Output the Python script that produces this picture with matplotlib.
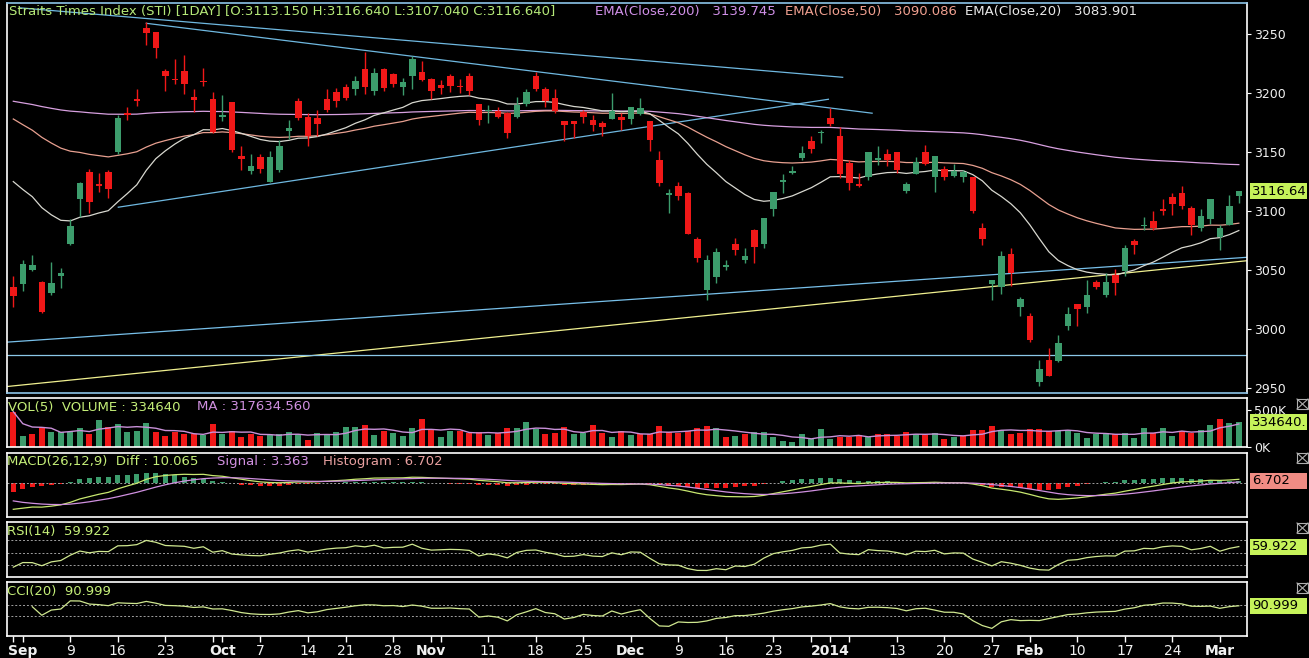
import numpy as np
import pandas as pd
import matplotlib
matplotlib.use('Agg')
import matplotlib.pyplot as plt
from matplotlib.patches import Rectangle
from matplotlib.lines import Line2D

W, H = 1309, 658

# ---- daily STI candles, 30 Aug 2013 .. 5 Mar 2014 ----
opens = [3036, 3038, 3050, 3040, 3031, 3045, 3072, 3110, 3133, 3123,
         3133, 3150, 3183, 3195, 3255, 3252, 3219, 3212, 3219, 3197,
         3210, 3195, 3180, 3192, 3147, 3134, 3146, 3125, 3135, 3168,
         3193, 3180, 3179, 3195, 3201, 3205, 3203, 3220, 3202, 3220,
         3216, 3205, 3214, 3218, 3212, 3207, 3214, 3205.5, 3214, 3191,
         3185, 3185, 3183, 3180, 3191, 3214, 3203, 3196, 3176, 3176,
         3184, 3177, 3175, 3178, 3180, 3178, 3182, 3176, 3143, 3114,
         3121, 3115, 3076, 3033, 3044, 3053, 3072, 3059, 3084, 3072,
         3102, 3125, 3132, 3145, 3159, 3166, 3179, 3164, 3141, 3123,
         3129, 3143, 3148, 3150, 3117, 3131, 3150, 3129, 3136, 3130,
         3129, 3129, 3086, 3038, 3036, 3064, 3019, 3011, 2955, 2974,
         2973, 3003, 3021, 3019, 3040, 3029, 3046, 3049, 3075, 3087,
         3092, 3102, 3112, 3115, 3103, 3086, 3093, 3078, 3088, 3113.15]
highs = [3045, 3059, 3063, 3041, 3057, 3052, 3093, 3125, 3136, 3132,
         3135, 3181, 3188, 3203, 3260, 3252, 3220, 3229, 3232, 3203,
         3221, 3201, 3198, 3192, 3155, 3148, 3148, 3151, 3160, 3177,
         3196, 3183, 3186, 3203, 3204, 3208, 3214, 3235, 3221, 3221,
         3217, 3213, 3231, 3227, 3213, 3211, 3216, 3212, 3217, 3191,
         3190, 3188, 3184, 3197, 3203, 3218, 3205, 3203, 3176, 3176,
         3186, 3181, 3176, 3200, 3183, 3188, 3196, 3176, 3151, 3119,
         3125, 3116, 3078, 3063, 3069, 3059, 3077, 3069, 3085, 3094,
         3116, 3131, 3138, 3155, 3164, 3169, 3187, 3171, 3143, 3132,
         3150, 3155, 3153, 3150, 3125, 3146, 3156, 3147, 3138, 3140,
         3135, 3129, 3090, 3042, 3066, 3069, 3027, 3014, 2974, 2984,
         2995, 3019, 3021, 3042, 3042, 3048, 3051, 3071, 3076, 3095,
         3100, 3110, 3115, 3121, 3104, 3102, 3110, 3088, 3114, 3116.64]
lows = [3019, 3032, 3049, 3014, 3029, 3035, 3071, 3095, 3098, 3116,
        3111, 3148, 3177, 3189, 3241, 3230, 3202, 3208, 3199, 3184,
        3206, 3166, 3176, 3150, 3135, 3131, 3132, 3125, 3133, 3161,
        3177, 3155, 3164, 3184, 3188, 3194, 3198, 3199, 3198, 3202,
        3205, 3198, 3203, 3210, 3195, 3199, 3201, 3200, 3198, 3173,
        3175, 3179, 3162, 3179, 3189, 3202, 3188, 3183, 3159, 3162,
        3175, 3168, 3164, 3178, 3169, 3174, 3181, 3151, 3121, 3098,
        3109, 3081, 3057, 3025, 3039, 3050, 3063, 3056, 3056, 3069,
        3096, 3115, 3131, 3143, 3149, 3158, 3172, 3128, 3118, 3120,
        3126, 3139, 3138, 3132, 3115, 3131, 3139, 3116, 3126, 3129,
        3125, 3098, 3071, 3025, 3030, 3037, 3011, 2989, 2952, 2960,
        2972, 2999, 3003, 3014, 3034, 3027, 3029, 3045, 3064, 3084,
        3084, 3097, 3097, 3102, 3080, 3083, 3089, 3067, 3088, 3107.04]
closes = [3028, 3055, 3054, 3015, 3039, 3048, 3087, 3124, 3108, 3121,
          3119, 3179, 3181, 3193, 3251, 3238, 3214, 3211, 3208, 3194,
          3209, 3167, 3181, 3152, 3144, 3138, 3136, 3146, 3155, 3170,
          3179, 3164, 3174, 3186, 3193, 3196, 3210, 3205, 3217, 3204,
          3208, 3209, 3229, 3211, 3202, 3204, 3206, 3205, 3202, 3177,
          3186, 3180, 3166, 3190, 3201, 3203, 3193, 3185, 3172.5, 3173.5,
          3180, 3173, 3171, 3185, 3177, 3188, 3187, 3160, 3124, 3115,
          3113, 3081, 3060, 3059, 3065, 3054, 3067, 3062, 3070, 3094,
          3116, 3126, 3134, 3149, 3153, 3167, 3174, 3131, 3124, 3121,
          3150, 3145, 3143, 3135, 3123, 3142, 3140, 3147, 3129, 3134,
          3133, 3100, 3076, 3042, 3062, 3048, 3026, 2991, 2966, 2960,
          2988, 3013, 3017, 3029, 3036, 3040, 3039, 3069, 3071, 3088,
          3086, 3100, 3106, 3104, 3088, 3096, 3110, 3086, 3104, 3116.64]
volumes_k = [477, 150, 177, 250, 204, 195, 204, 250, 177, 368,
             272, 304, 204, 218, 327, 204, 150, 195, 168, 168,
             159, 304, 173, 218, 136, 168, 145, 159, 168, 204,
             173, 86, 191, 177, 195, 268, 272, 291, 159, 218,
             182, 150, 250, 377, 222, 136, 213, 213, 182, 195,
             159, 182, 259, 250, 340, 236, 168, 182, 268, 168,
             182, 295, 191, 136, 213, 159, 173, 173, 286, 195,
             191, 213, 250, 277, 259, 136, 150, 168, 204, 195,
             127, 77, 59, 168, 104, 236, 104, 136, 136, 159,
             136, 168, 168, 145, 195, 177, 159, 191, 104, 136,
             150, 227, 232, 282, 227, 173, 191, 236, 236, 213,
             213, 227, 191, 122, 168, 191, 173, 191, 122, 250,
             191, 259, 150, 213, 182, 222, 295, 377, 318, 334.64]

# date axis (candle number -> label)
tick_pos = [2, 7, 12, 17, 23, 27, 32, 36, 41, 45, 51, 56, 61, 66, 71, 76, 81,
            87, 94, 99, 104, 108, 113, 118, 123, 128]
tick_labels = ['Sep', '9', '16', '23', 'Oct', '7', '14', '21', '28', 'Nov',
               '11', '18', '25', 'Dec', '9', '16', '23', '2014', '13', '20',
               '27', 'Feb', '10', '17', '24', 'Mar']
month_labels = ['Sep', 'Oct', 'Nov', 'Dec', '2014', 'Feb', 'Mar']
extra_ticks = [1, 22, 46, 85, 89]

# indicator values on the first candle (history before the window is not shown)
ema_seed = {200: 3193.0, 50: 3178.0, 20: 3125.0}
macd_seed = [3080.0, 3145.0, -44.0]     # ema12, ema26, signal
rsi_seed = [5.0, 13.5]                  # avg gain, avg loss

# hand drawn trend lines: (candle, price) -> (candle, price)
trend_x0 = [1.7, 15.0, 12.05, 0.23, 0.23, 0.34]
trend_p0 = [3272.1, 3259.0, 3103.3, 2989.0, 2951.4, 2978.4]
trend_x1 = [88.3, 91.4, 86.8, 130.86, 130.86, 130.86]
trend_p1 = [3213.3, 3182.9, 3194.7, 3060.9, 3058.0, 2978.4]
trend_col = ['#6fb8e0', '#6fb8e0', '#6fb8e0', '#78c0ea', '#f0f090', '#8cc8e8']

# -------------------------------------------------------------------------
o = np.array(opens, float); h = np.array(highs, float)
l = np.array(lows, float); c = np.array(closes, float)
vol = np.array(volumes_k, float)
n = len(c)
xs = np.arange(1, n + 1)


def ema(vals, span, seed):
    a = 2.0 / (span + 1)
    out = [seed]
    for v in vals[1:]:
        out.append(out[-1] + a * (v - out[-1]))
    return np.array(out)


ema200 = ema(c, 200, ema_seed[200])
ema50 = ema(c, 50, ema_seed[50])
ema20 = ema(c, 20, ema_seed[20])

diff = ema(c, 12, macd_seed[0]) - ema(c, 26, macd_seed[1])
signal = ema(diff, 9, macd_seed[2])
hist = diff - signal

g, ls = rsi_seed
rsi = [100 - 100 / (1 + g / ls)]
for i in range(1, n):
    ch = c[i] - c[i - 1]
    g = (g * 13 + max(ch, 0)) / 14
    ls = (ls * 13 + max(-ch, 0)) / 14
    rsi.append(100 - 100 / (1 + g / ls))
rsi = np.array(rsi)

tp = pd.Series((h + l + c) / 3)
sma = tp.rolling(20, min_periods=3).mean()
mad = tp.rolling(20, min_periods=3).apply(lambda x: np.mean(np.abs(x - x.mean())), raw=True)
cci = ((tp - sma) / (0.015 * mad)).values

vol_ma = pd.Series(vol).rolling(5, min_periods=1).mean().values

GREEN = '#3c9c6c'
RED = '#f01818'
cndl_col = [GREEN if c[i] >= o[i] else RED for i in range(n)]
vol_col = [RED if c[0] < o[0] else GREEN] + \
          [GREEN if c[i] >= c[i - 1] else RED for i in range(1, n)]

TXT = '#f0f0f0'
LIME = '#c4ee78'
VIOLET = '#d090e0'


def box(y0, y1):
    return [7 / W, 1 - y1 / H, 1240 / W, (y1 - y0) / H]


def fxy(px, py):
    return px / W, 1 - py / H


fig = plt.figure(figsize=(W / 100, H / 100), dpi=100, facecolor='black')
ax = fig.add_axes(box(3, 393))
axv = fig.add_axes(box(398.3, 447.3))
axm = fig.add_axes(box(452.7, 517.3))
axr = fig.add_axes(box(522.3, 577.3))
axc = fig.add_axes(box(582.3, 636))

XL = (0.337, 130.86)
for a in [ax, axv, axm, axr, axc]:
    a.set_facecolor('black')
    a.set_xlim(*XL)
    for s in a.spines.values():
        s.set_color('white')
        s.set_linewidth(1.2)
    a.tick_params(axis='x', which='both', bottom=False, labelbottom=False)
    a.tick_params(axis='y', which='both', left=False, labelleft=False,
                  right=False, labelright=False)

# ---- price panel ----
ax.spines['top'].set_color('#8cc4e8')
ax.spines['bottom'].set_color('#8cc4e8')
for x0, p0, x1, p1, col in zip(trend_x0, trend_p0, trend_x1, trend_p1, trend_col):
    ax.plot([x0, x1], [p0, p1], color=col, lw=0.9, zorder=1)
ax.plot(xs, ema200, color='#d8a0e0', lw=0.9, zorder=2)
ax.plot(xs, ema50, color='#e8a090', lw=0.9, zorder=2)
ax.plot(xs, ema20, color='#d8d8d0', lw=0.9, zorder=2)
ax.vlines(xs, l, h, colors=cndl_col, lw=1.0, zorder=3)
ax.bar(xs, np.maximum(np.abs(c - o), 0.9), bottom=np.minimum(o, c), width=0.68,
       color=cndl_col, linewidth=0, zorder=4)
ax.set_ylim(2946, 3276.2)
ax.set_yticks([2950, 3000, 3050, 3100, 3150, 3200, 3250])
ax.tick_params(axis='y', right=True, labelright=True, colors='white',
               labelcolor=TXT, labelsize=9, length=3, pad=2)

# ---- volume panel ----
axv.bar(xs, vol, width=0.62, color=vol_col, linewidth=0)
axv.plot(xs, vol_ma, color='#c890d8', lw=1.0)
axv.set_ylim(-8, 659)
axv.set_yticks([0, 500])
axv.set_yticklabels(['0K', '500K'])
axv.tick_params(axis='y', right=True, labelright=True, colors='white',
                labelcolor=TXT, labelsize=9, length=3, pad=2)

# ---- MACD panel ----
axm.axhline(0, color='#a0a0a0', lw=0.7, ls=(0, (2, 2)))
axm.bar(xs, hist, width=0.55, color=[GREEN if v >= 0 else RED for v in hist], linewidth=0)
axm.plot(xs, diff, color='#c8e870', lw=0.9)
axm.plot(xs, signal, color=VIOLET, lw=0.9)
axm.set_ylim(-85, 76.5)

# ---- RSI panel ----
for lev in [30, 50, 70]:
    axr.axhline(lev, color='#a0a0a0', lw=0.7, ls=(0, (2, 2)))
axr.plot(xs, rsi, color='#d0e890', lw=0.9)
axr.set_ylim(10.8, 98.8)

# ---- CCI panel ----
for lev in [-100, 100]:
    axc.axhline(lev, color='#a0a0a0', lw=0.7, ls=(0, (2, 2)))
axc.plot(xs, cci, color='#d0e890', lw=0.9)
axc.set_ylim(-474, 530)

# date axis
axc.set_xticks(tick_pos)
axc.set_xticklabels(tick_labels)
axc.set_xticks(extra_ticks, minor=True)
axc.tick_params(axis='x', which='both', bottom=True, colors='white', length=4, width=1)
axc.tick_params(axis='x', which='major', labelbottom=True, labelsize=10,
                labelcolor=TXT, pad=2)
for t in axc.get_xticklabels():
    if t.get_text() in month_labels:
        t.set_fontweight('bold')


# last-value boxes on the right edge
def value_box(a, val, s, fc):
    yc = a.transData.transform((1, val))[1] / H
    fig.add_artist(Rectangle((1250 / W, yc - 8 / H), 57 / W, 16 / H,
                             transform=fig.transFigure, fc=fc, ec='none'))
    fig.text(1252 / W, yc, s, fontsize=9.5, color='black', ha='left', va='center')


value_box(ax, c[-1], '%.2f' % c[-1], '#c6f25a')
value_box(axv, vol[-1], '%d.' % round(vol[-1] * 1000), '#c6f25a')
value_box(axm, hist[-1], '6.702', '#f08c84')
value_box(axr, rsi[-1], '59.922', '#c6f25a')
value_box(axc, cci[-1], '90.999', '#c6f25a')


# ---- header texts ----
def ftext(px, py, s, col, size=9.5):
    x, y = fxy(px, py)
    fig.text(x, y, s, color=col, fontsize=size, ha='left', va='center')


ftext(9, 11, 'Straits Times Index (STI) [1DAY] [O:3113.150 H:3116.640 L:3107.040 C:3116.640]', '#b4e878')
ftext(595, 11, 'EMA(Close,200)   3139.745', '#d090e8')
ftext(785, 11, 'EMA(Close,50)   3090.086', '#f0a090')
ftext(965, 11, 'EMA(Close,20)   3083.901', '#e8e8e8')
ftext(8, 407, 'VOL(5)  VOLUME : 334640', LIME)
ftext(197, 407, 'MA : 317634.560', VIOLET)
ftext(7, 461, 'MACD(26,12,9)  Diff : 10.065', LIME)
ftext(217, 461, 'Signal : 3.363', VIOLET)
ftext(323, 461, 'Histogram : 6.702', '#e8a0a0')
ftext(7, 531, 'RSI(14)  59.922', LIME)
ftext(7, 591, 'CCI(20)  90.999', LIME)

# little close boxes at the right of the sub panels
for py in [399, 453, 523, 583]:
    x0, y1 = fxy(1297, py)
    x1, y0 = fxy(1308, py + 10)
    fig.add_artist(Rectangle((x0, y0), x1 - x0, y1 - y0, transform=fig.transFigure,
                             fill=False, ec='#b0b0b0', lw=0.8))
    fig.add_artist(Line2D([x0, x1], [y0, y1], transform=fig.transFigure, color='#b0b0b0', lw=0.8))
    fig.add_artist(Line2D([x0, x1], [y1, y0], transform=fig.transFigure, color='#b0b0b0', lw=0.8))

fig.savefig('out.png', dpi=100, facecolor='black')
